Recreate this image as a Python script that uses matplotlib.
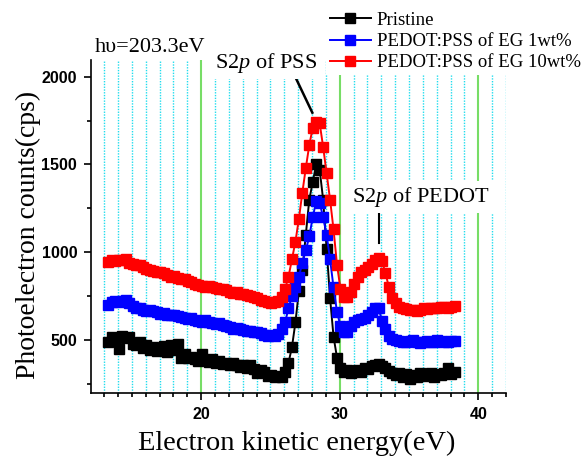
import numpy as np
import matplotlib
matplotlib.use("Agg")
import matplotlib.pyplot as plt
from matplotlib.ticker import MultipleLocator

plt.rcParams["mathtext.fontset"] = "custom"
plt.rcParams["mathtext.rm"] = "Liberation Serif"
plt.rcParams["mathtext.it"] = "Liberation Serif:italic"

# energie cinetique, pas de 0.25 eV
energy = np.round(np.arange(13.3, 38.31, 0.25), 2)

pristine = [490, 520, 505, 450, 525, 510, 520, 480, 470, 490,
            455, 470, 445, 460, 440, 450, 465, 430, 470, 445,
            475, 400, 420, 395, 405, 390, 380, 420, 385, 375,
            390, 370, 380, 365, 372, 360, 368, 355, 345, 360,
            340, 355, 335, 310, 330, 320, 295, 300, 290, 295,
            290, 320, 370, 460, 600, 780, 900, 1100, 1300, 1400,
            1500, 1470, 1300, 1020, 740, 520, 400, 340, 320, 330,
            315, 325, 330, 320, 340, 335, 350, 355, 365, 350,
            340, 325, 310, 300, 315, 290, 305, 280, 300, 290,
            310, 295, 300, 310, 290, 305, 300, 310, 340, 305,
            320]

eg_1wt = [700, 715, 720, 715, 725, 728, 710, 695, 685, 680,
          670, 665, 672, 668, 660, 650, 652, 645, 640, 642,
          635, 630, 625, 620, 625, 615, 610, 605, 612, 600,
          595, 590, 595, 585, 580, 572, 565, 570, 560, 555,
          550, 552, 545, 548, 540, 530, 525, 528, 522, 535,
          560, 600, 680, 750, 800, 860, 940, 1010, 1090, 1200,
          1290, 1280, 1200, 1100, 960, 800, 660, 580, 545, 548,
          580, 600, 612, 620, 625, 640, 660, 685, 680, 610,
          560, 525, 505, 498, 495, 490, 488, 495, 500, 490,
          485, 490, 492, 488, 490, 500, 492, 488, 490, 495,
          492]

eg_10wt = [945, 955, 950, 958, 955, 960, 940, 935, 930, 925,
           915, 905, 900, 895, 890, 885, 880, 870, 860, 862,
           855, 850, 845, 835, 830, 820, 815, 808, 800, 805,
           800, 795, 790, 792, 785, 775, 770, 772, 765, 760,
           755, 750, 745, 740, 730, 725, 715, 712, 718, 722,
           745, 790, 860, 960, 1060, 1190, 1340, 1480, 1610, 1710,
           1740, 1735, 1600, 1450, 1300, 1130, 930, 790, 745, 745,
           775, 820, 860, 885, 900, 915, 935, 955, 970, 950,
           880, 800, 740, 710, 690, 685, 675, 670, 672, 665,
           670, 680, 678, 682, 685, 680, 686, 690, 684, 688,
           692]

series = [pristine, eg_1wt, eg_10wt]
labels = ["Pristine", "PEDOT:PSS of EG 1wt%", "PEDOT:PSS of EG 10wt%"]
colors = ["black", "blue", "red"]

fig = plt.figure(figsize=(5.82, 4.57), dpi=100)
ax = fig.add_axes([0.1564, 0.1407, 0.7131, 0.728])

for vals, lab, col in zip(series, labels, colors):
    ax.plot(energy, vals, "-", color=col, lw=1.4, marker="s", ms=7, mec=col, label=lab)

ax.set_xlim(12.05, 42.0)
ax.set_ylim(200, 2095)
ax.xaxis.set_major_locator(MultipleLocator(10))
ax.xaxis.set_minor_locator(MultipleLocator(1))
ax.yaxis.set_major_locator(MultipleLocator(500))
ax.yaxis.set_minor_locator(MultipleLocator(250))

# grille verticale seulement (vert = majeur, cyan pointille = mineur)
ax.set_axisbelow(True)
ax.xaxis.grid(True, which="major", color="#77dd66", lw=1.5, ls="-")
ax.xaxis.grid(True, which="minor", color="#22ddee", lw=1.0, ls=(0, (1, 1)))

ax.spines["top"].set_visible(False)
ax.spines["right"].set_visible(False)
ax.spines["left"].set_linewidth(1.2)
ax.spines["bottom"].set_linewidth(1.2)
ax.tick_params(which="both", direction="out", width=1.2)
ax.tick_params(which="major", length=5, pad=5)
ax.tick_params(which="minor", length=3)
for t in ax.get_xticklabels() + ax.get_yticklabels():
    t.set_fontfamily("Liberation Sans")
    t.set_fontweight("bold")
    t.set_fontsize(11.5)

fig.text(297 / 582, 1 - 450 / 457, "Electron kinetic energy(eV)", ha="center", va="baseline",
         family="Liberation Serif", size=20.5)
fig.text(35 / 582, 1 - 235 / 457, "Photoelectron counts(cps)", rotation=90, rotation_mode="anchor",
         ha="center", va="baseline", family="Liberation Serif", size=20)

ax.text(12.35, 2142, "h\u03c5=203.3eV", family="Liberation Serif", size=16, clip_on=False)
ax.text(21.0, 2051, r"S$\mathit{2p}$ of PSS", family="Liberation Serif", size=16, clip_on=False,
        bbox=dict(facecolor="white", edgecolor="none", pad=3))
ax.plot([26.28, 28.02], [2083, 1795], color="black", lw=1.8, clip_on=False)
ax.text(30.9, 1287, r"S$\mathit{2p}$ of PEDOT", family="Liberation Serif", size=16,
        bbox=dict(facecolor="white", edgecolor="none", pad=3))
ax.plot([32.85, 32.85], [1230, 1053], color="black", lw=1.5)

leg = ax.legend(loc="upper left", bbox_to_anchor=(326 / 582, 1 - 8 / 457), bbox_transform=fig.transFigure,
                prop={"family": "Liberation Serif", "size": 13.5}, handlelength=2.2, handletextpad=0.3,
                labelspacing=0.22, borderpad=0.2, borderaxespad=0, framealpha=1, fancybox=False)
leg.get_frame().set_edgecolor("none")
leg.get_frame().set_facecolor("white")

fig.savefig("out.png", dpi=100)
